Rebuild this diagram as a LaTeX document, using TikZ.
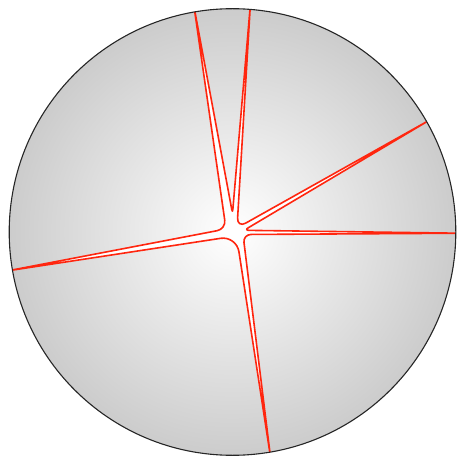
\documentclass[tikz,border=0pt]{standalone}
\usetikzlibrary{calc}
\definecolor{rayred}{RGB}{255,38,15}
\tikzset{
  ray/.style={draw=rayred, line width=1.6pt, fill=white, line join=round},
  rim/.style={draw=black!85, line width=1.1pt}
}
\begin{document}
\begin{tikzpicture}[x=1pt,y=-1pt]
\useasboundingbox (0,0) rectangle (460,462);
\coordinate (O) at (232.5,232);
\shade[inner color=white, outer color=gray!40] (O) circle[radius=223.3pt];
% tips on the rim
\coordinate (T1) at (194.9,11.9);
\coordinate (T2) at (250.0,9.4);
\coordinate (T3) at (426.7,121.7);
\coordinate (T4) at (455.8,233.2);
\coordinate (T5) at (269.7,452.2);
\coordinate (T6) at (12.5,270.0);
\coordinate (E1) at ($(O)!1.02!(T1)$);
\coordinate (E2) at ($(O)!1.02!(T2)$);
\coordinate (E3) at ($(O)!1.02!(T3)$);
\coordinate (E4) at ($(O)!1.02!(T4)$);
\coordinate (E5) at ($(O)!1.02!(T5)$);
\coordinate (E6) at ($(O)!1.02!(T6)$);
% inner corners
\coordinate (V12) at (232.5,213.5);
\coordinate (V23) at (237,228);
\coordinate (V34) at (244,230.3);
\coordinate (V45) at (243,234.5);
\coordinate (V56) at (236.5,235.9);
\coordinate (V61) at (226,229);
\begin{scope}
\clip (O) circle[radius=223.3pt];
\draw[ray] (E1)
 -- ($(V12)!4pt!(E1)$) .. controls ($(V12)!1.8pt!(E1)$) and ($(V12)!1.8pt!(E2)$) .. ($(V12)!4pt!(E2)$)
 -- (E2)
 -- ($(V23)!10pt!(E2)$) .. controls ($(V23)!4.5pt!(E2)$) and ($(V23)!4.5pt!(E3)$) .. ($(V23)!10pt!(E3)$)
 -- (E3)
 -- ($(V34)!5pt!(E3)$) .. controls ($(V34)!2.2pt!(E3)$) and ($(V34)!2.2pt!(E4)$) .. ($(V34)!5pt!(E4)$)
 -- (E4)
 -- ($(V45)!8pt!(E4)$) .. controls ($(V45)!3.6pt!(E4)$) and ($(V45)!3.6pt!(E5)$) .. ($(V45)!8pt!(E5)$)
 -- (E5)
 -- ($(V56)!16pt!(E5)$) .. controls ($(V56)!7.2pt!(E5)$) and ($(V56)!7.2pt!(E6)$) .. ($(V56)!16pt!(E6)$)
 -- (E6)
 -- ($(V61)!9pt!(E6)$) .. controls ($(V61)!4pt!(E6)$) and ($(V61)!4pt!(E1)$) .. ($(V61)!9pt!(E1)$)
 -- cycle;
\end{scope}
\draw[rim] (O) circle[radius=223.3pt];
\end{tikzpicture}
\end{document}
